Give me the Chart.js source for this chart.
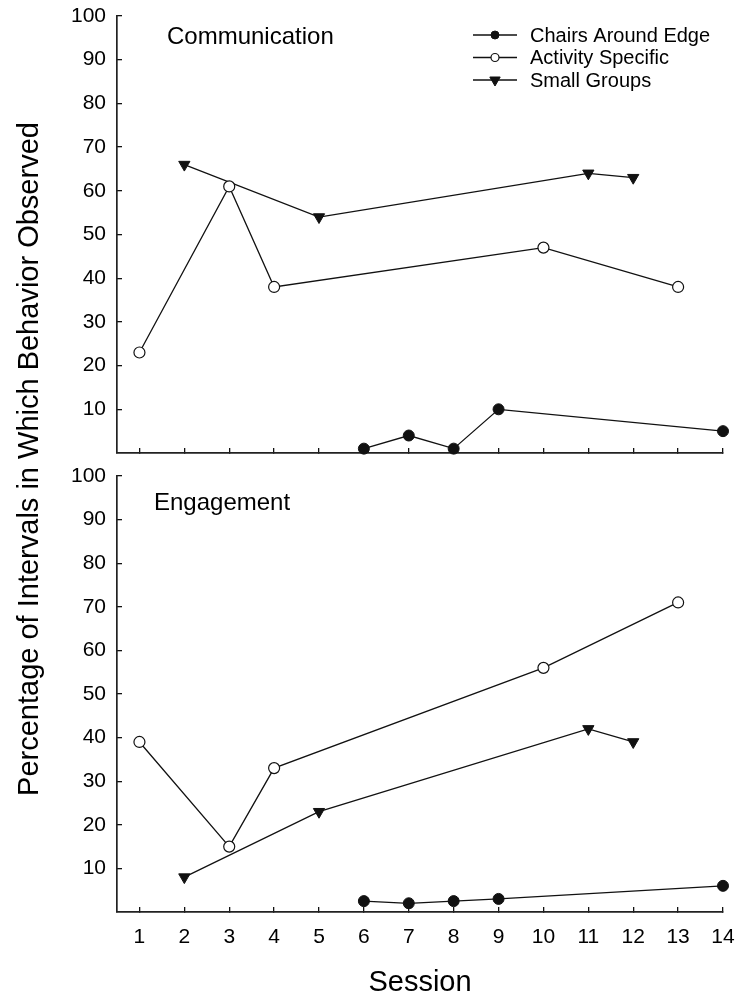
<!DOCTYPE html>
<html>
<head>
<meta charset="utf-8">
<script src="https://cdn.jsdelivr.net/npm/chart.js@4.4.1/dist/chart.umd.min.js"></script>
<style>
html,body{margin:0;padding:0;background:#fff;}
#wrap{position:relative;width:737px;height:999px;background:#fff;}
#wrap canvas{position:absolute;left:0;top:0;}
</style>
</head>
<body>
<div id="wrap">
<canvas id="topChart" width="737" height="999"></canvas>
<canvas id="botChart" width="737" height="999"></canvas>
</div>
<script>
// ---- data ----
const sessionTicks = [1,2,3,4,5,6,7,8,9,10,11,12,13,14];
const percentTicks = [10,20,30,40,50,60,70,80,90,100];
const seriesNames = ['Chairs Around Edge','Activity Specific','Small Groups'];
const chairsSessions = [6,7,8,9,14];
const activitySessions = [1,3,4,10,13];
const groupSessions = [2,5,11,12];
const commChairs = [1,4,1,10,5];
const commActivity = [23,61,38,47,38];
const commGroups = [66,54,64,63];
const engChairs = [2.5,2,2.5,3,6];
const engActivity = [39,15,33,56,71];
const engGroups = [8,23,42,39];
const panelTitles = ['Communication','Engagement'];
const xTitle = 'Session';
const yTitle = 'Percentage of Intervals in Which Behavior Observed';

// ---- styles ----
const FONT = "'Liberation Sans', Arial, Helvetica, sans-serif";
const INK = '#111';
Chart.defaults.font.family = FONT;
Chart.defaults.color = '#000';

function pts(xs, ys){ return xs.map((x,i)=>({x:x, y:ys[i]})); }

const markerStyles = [
  {pointStyle:'circle', pointRadius:5.5, pointBackgroundColor:INK, pointBorderColor:INK, pointBorderWidth:1, pointRotation:0},
  {pointStyle:'circle', pointRadius:5.5, pointBackgroundColor:'#fff', pointBorderColor:INK, pointBorderWidth:1.2, pointRotation:0},
  {pointStyle:'triangle', pointRadius:6.5, pointBackgroundColor:INK, pointBorderColor:INK, pointBorderWidth:1, pointRotation:180}
];

function makeDatasets(c, a, g){
  const sets = [pts(chairsSessions,c), pts(activitySessions,a), pts(groupSessions,g)];
  return sets.map((d,i)=>Object.assign({
    label: seriesNames[i],
    data: d,
    borderColor: INK,
    borderWidth: 1.3,
    tension: 0,
    clip: false,
    showLine: true,
    pointHoverRadius: markerStyles[i].pointRadius
  }, markerStyles[i]));
}

function makeScales(showX){
  const grid = {display:true, drawOnChartArea:false, drawTicks:true, tickLength:-5, color:INK, lineWidth:1.3};
  const border = {display:true, color:'#222', width:1.7};
  return {
    x: {
      type:'linear', min:0.5, max:14,
      afterBuildTicks: s => { s.ticks = sessionTicks.map(v=>({value:v})); },
      ticks: {display:showX, font:{size:21}, color:'#000', padding:18, maxRotation:0, autoSkip:false},
      grid: grid, border: border,
      title: {display:showX, text:xTitle, font:{size:29, lineHeight:1}, color:'#000', padding:{top:0,bottom:2}},
      afterFit: s => { s.height = showX ? 87 : 30; s.paddingLeft = 0; s.paddingRight = 0; }
    },
    y: {
      type:'linear', min:0, max:100,
      afterBuildTicks: s => { s.ticks = percentTicks.map(v=>({value:v})); },
      ticks: {font:{size:21}, color:'#000', padding:16},
      grid: grid, border: border,
      afterFit: s => { s.width = 60; s.paddingTop = 0; s.paddingBottom = 0; }
    }
  };
}

function drawMarker(ctx, style, x, y, r){
  ctx.save();
  ctx.fillStyle = style.pointBackgroundColor;
  ctx.strokeStyle = style.pointBorderColor;
  ctx.lineWidth = style.pointBorderWidth;
  ctx.beginPath();
  if (style.pointStyle === 'triangle'){
    for (let k=0;k<3;k++){
      const ang = Math.PI + k*2*Math.PI/3; // pointing down
      const px = x + Math.sin(ang)*r, py = y - Math.cos(ang)*r;
      if (k===0) ctx.moveTo(px,py); else ctx.lineTo(px,py);
    }
    ctx.closePath();
  } else {
    ctx.arc(x, y, r, 0, Math.PI*2);
  }
  ctx.fill();
  ctx.stroke();
  ctx.restore();
}

const topDecor = {
  id:'topDecor',
  afterDraw(chart){
    const ctx = chart.ctx;
    ctx.save();
    ctx.fillStyle = '#000';
    ctx.textBaseline = 'middle';
    ctx.textAlign = 'left';
    ctx.font = '24px ' + FONT;
    ctx.fillText(panelTitles[0], 167, 37);
    // legend
    const rows = [35, 57.5, 80];
    const radii = [4, 4, 6];
    ctx.font = '20px ' + FONT;
    rows.forEach((ry,i)=>{
      ctx.strokeStyle = INK;
      ctx.lineWidth = 1.4;
      ctx.beginPath();
      ctx.moveTo(473, ry); ctx.lineTo(517, ry);
      ctx.stroke();
      drawMarker(ctx, markerStyles[i], 495, ry, radii[i]);
      ctx.fillStyle = '#000';
      ctx.textBaseline = 'middle';
      ctx.fillText(seriesNames[i], 530, ry+1);
    });
    ctx.restore();
  }
};

const botDecor = {
  id:'botDecor',
  afterDraw(chart){
    const ctx = chart.ctx;
    ctx.save();
    ctx.fillStyle = '#000';
    ctx.textBaseline = 'middle';
    ctx.textAlign = 'left';
    ctx.font = '24px ' + FONT;
    ctx.fillText(panelTitles[1], 154, 503);
    ctx.translate(30, 459);
    ctx.rotate(-Math.PI/2);
    ctx.textAlign = 'center';
    ctx.font = '29px ' + FONT;
    ctx.fillText(yTitle, 0, 0);
    ctx.restore();
  }
};

const common = {
  responsive:false,
  animation:false,
  devicePixelRatio:1,
  plugins:{legend:{display:false}, tooltip:{enabled:false}}
};

new Chart(document.getElementById('topChart'), {
  type:'line',
  data:{datasets: makeDatasets(commChairs, commActivity, commGroups)},
  options: Object.assign({}, common, {
    layout:{padding:{left:57, right:14, top:16, bottom:516}},
    scales: makeScales(false)
  }),
  plugins:[topDecor]
});

new Chart(document.getElementById('botChart'), {
  type:'line',
  data:{datasets: makeDatasets(engChairs, engActivity, engGroups)},
  options: Object.assign({}, common, {
    layout:{padding:{left:57, right:14, top:476, bottom:0}},
    scales: makeScales(true)
  }),
  plugins:[botDecor]
});
</script>
</body>
</html>
